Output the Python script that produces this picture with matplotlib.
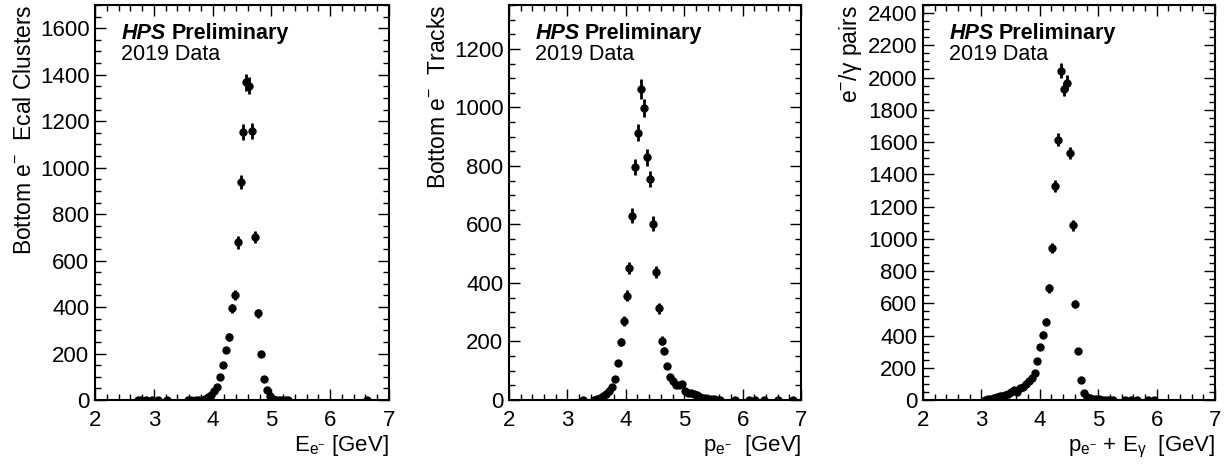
import numpy as np
import matplotlib
matplotlib.use('Agg')
import matplotlib.pyplot as plt
from matplotlib.ticker import MultipleLocator

# =========================
# Data (bin centers in GeV, counts)
# =========================
ecal_x = [2.725, 2.775, 2.875, 2.975, 3.075, 3.225, 3.575, 3.625, 3.725,
          3.775, 3.825, 3.875, 3.925, 3.975, 4.025, 4.075, 4.125, 4.175,
          4.225, 4.275, 4.325, 4.375, 4.425, 4.475, 4.525, 4.575, 4.625,
          4.675, 4.725, 4.775, 4.825, 4.875, 4.925, 4.975, 5.025, 5.075,
          5.125, 5.175, 5.225, 5.275, 6.625]
ecal_y = [1, 1, 1, 1, 1, 1, 1, 1, 1,
          2, 2, 4, 12, 22, 40, 55, 100, 149,
          215, 270, 394, 452, 678, 939, 1154, 1368, 1352,
          1157, 702, 373, 198, 89, 43, 17, 5, 2,
          2, 1, 1, 1, 1]

trk_x = [3.262, 3.462, 3.512, 3.562, 3.612, 3.662, 3.712, 3.762, 3.812,
         3.862, 3.912, 3.962, 4.012, 4.062, 4.112, 4.162, 4.212, 4.262,
         4.312, 4.362, 4.412, 4.462, 4.512, 4.562, 4.612, 4.662, 4.712,
         4.762, 4.812, 4.862, 4.912, 4.962, 5.012, 5.062, 5.112, 5.162,
         5.212, 5.262, 5.312, 5.362, 5.412, 5.462, 5.512, 5.562, 5.612,
         5.862, 6.112, 6.212, 6.362, 6.612, 6.862]
trk_y = [1, 1, 3, 8, 14, 22, 30, 44, 71,
         127, 199, 270, 356, 452, 630, 796, 914, 1063,
         998, 830, 756, 603, 437, 313, 203, 169, 115,
         80, 66, 50, 52, 55, 32, 25, 23, 20,
         16, 11, 8, 6, 4, 3, 2, 1, 1,
         1, 1, 1, 1, 1, 1]

pair_x = [3.06, 3.11, 3.16, 3.21, 3.26, 3.31, 3.36, 3.41, 3.46, 3.51,
          3.56, 3.61, 3.66, 3.71, 3.76, 3.81, 3.86, 3.91, 3.96, 4.01,
          4.06, 4.11, 4.16, 4.21, 4.26, 4.31, 4.36, 4.41, 4.46, 4.51,
          4.56, 4.61, 4.66, 4.71, 4.76, 4.81, 4.86, 4.91, 4.96, 5.01,
          5.06, 5.11, 5.16, 5.21, 5.26, 5.46, 5.56, 5.66, 5.86, 5.96]
pair_y = [2, 5, 9, 14, 19, 23, 27, 32, 40, 52,
          62, 52, 73, 83, 100, 115, 135, 167, 240, 329,
          406, 486, 692, 944, 1327, 1614, 2042, 1927, 1969, 1531,
          1083, 598, 302, 121, 42, 20, 12, 8, 5, 4,
          3, 2, 2, 1, 1, 1, 1, 1, 1, 1]

ylabels = [r'Bottom e$^{-}$  Ecal Clusters', r'Bottom e$^{-}$  Tracks', r'e$^{-}$/γ pairs']
xlabels = [r'E$_{\mathrm{e}^{-}}$ [GeV]', r'p$_{\mathrm{e}^{-}}$  [GeV]',
           r'p$_{\mathrm{e}^{-}}$ + E$_{\mathrm{\gamma}}$  [GeV]']
ymax = [1700, 1350, 2450]

# =========================
# Style
# =========================
plt.rcParams['font.family'] = ['Liberation Sans', 'DejaVu Sans']
plt.rcParams['mathtext.fontset'] = 'custom'
plt.rcParams['mathtext.rm'] = 'Liberation Sans'
plt.rcParams['mathtext.it'] = 'Liberation Sans:italic'
plt.rcParams['mathtext.bf'] = 'Liberation Sans:bold'

fig = plt.figure(figsize=(12.32, 4.66), dpi=100)

lefts = [95, 509, 923]
widths = [294, 292, 292]
datasets = [(ecal_x, ecal_y), (trk_x, trk_y), (pair_x, pair_y)]

for i in range(3):
    ax = fig.add_axes([lefts[i] / 1232, 66 / 466, widths[i] / 1232, 395 / 466])
    x, y = datasets[i]
    y = np.array(y, dtype=float)
    ax.errorbar(x, y, yerr=np.sqrt(y), fmt='o', color='black',
                ms=5, elinewidth=2, capsize=0)

    ax.set_xlim(2, 7)
    ax.set_ylim(0, ymax[i])
    ax.xaxis.set_major_locator(MultipleLocator(1))
    ax.xaxis.set_minor_locator(MultipleLocator(0.2))
    ax.yaxis.set_major_locator(MultipleLocator(200))
    ax.yaxis.set_minor_locator(MultipleLocator(50))
    ax.tick_params(which='both', direction='in', top=True, right=True,
                   labelsize=16, width=1)
    ax.tick_params(which='major', length=8)
    ax.tick_params(which='minor', length=4)
    ax.tick_params(axis='x', pad=7)
    ax.tick_params(axis='y', pad=4)
    for s in ax.spines.values():
        s.set_linewidth(1.5)

    ax.set_xlabel(xlabels[i], fontsize=16, loc='right', labelpad=2)
    ax.set_ylabel(ylabels[i], fontsize=16.5, loc='top', labelpad=3)

    t = ax.text(0.09, 0.955, 'HPS', transform=ax.transAxes, fontsize=15.5,
                fontweight='bold', fontstyle='italic', va='top')
    ax.annotate('Preliminary', xy=(1, 0), xycoords=t, xytext=(4, 0),
                textcoords='offset points', fontsize=15.5, fontweight='bold',
                va='bottom')
    ax.text(0.09, 0.9, '2019 Data', transform=ax.transAxes, fontsize=15.5,
            va='top')

fig.savefig('out.png', dpi=100)
